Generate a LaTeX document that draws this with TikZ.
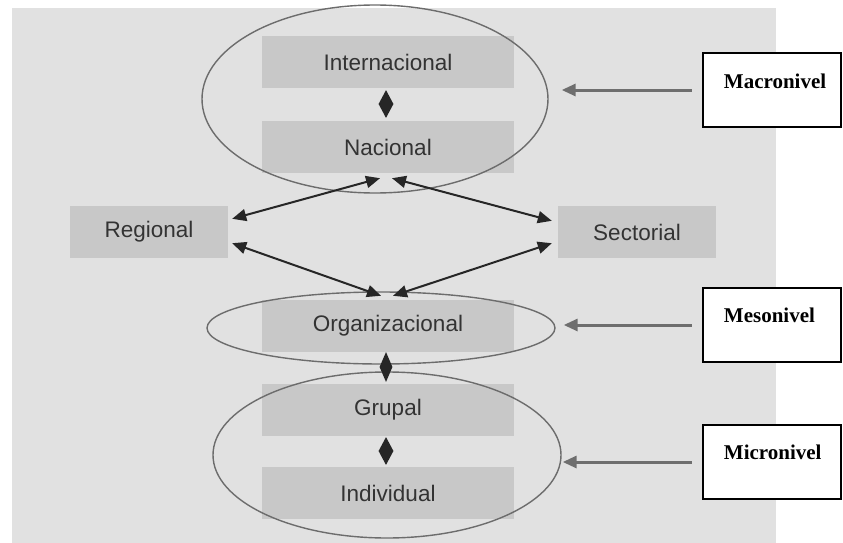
\documentclass[tikz,border=0pt]{standalone}
\usepackage{fontspec}
\setmainfont{Liberation Sans}
\newfontfamily\lblfont{Liberation Serif}
\usetikzlibrary{arrows.meta,shapes.geometric}
\definecolor{panel}{HTML}{E1E1E1}
\definecolor{boxfill}{HTML}{C8C8C8}
\definecolor{boxtext}{HTML}{333333}
\definecolor{ringcol}{HTML}{6C6C6C}
\definecolor{pointer}{HTML}{6E6E6E}
\begin{document}
\begin{tikzpicture}[x=1pt,y=-1pt,
  level/.style={rectangle,fill=boxfill,inner sep=0pt,minimum height=52pt,
    text=boxtext,font=\fontsize{22.5}{25}\selectfont},
  wide/.style={level,minimum width=252pt},
  side/.style={level,minimum width=158pt},
  ring/.style={ellipse,draw=ringcol,line width=1.4pt,inner sep=0pt},
  gem/.style={diamond,fill=black!85,inner sep=0pt,minimum width=15pt},
  link/.style={line width=2pt,draw=black!85,{Triangle[length=14pt,width=12pt]}-{Triangle[length=14pt,width=12pt]}},
  lblbox/.style={rectangle,draw=black,line width=2.5pt,fill=white,minimum width=138pt,minimum height=74pt,inner sep=0pt},
  lbltxt/.style={font=\lblfont\bfseries\fontsize{21}{23}\selectfont,inner sep=0pt,anchor=west},
  pointarrow/.style={line width=3pt,draw=pointer,-{Triangle[length=14pt,width=12pt]}}]
\useasboundingbox (0,0) rectangle (843,543);
% background panel
\fill[panel] (12,8) rectangle (776,543);

% levels
\node[wide] (int) at (388,62) {Internacional};
\node[wide] (nac) at (388,147) {Nacional};
\node[side] (reg) at (149,232) {Regional};
\node[side] (sec) at (637,232) {Sectorial};
\node[wide] (org) at (388,326) {Organizacional};
\node[wide] (gru) at (388,409.5) {Grupal};
\node[wide] (ind) at (388,493) {Individual};

% grouping ellipses
\node[ring,minimum width=346pt,minimum height=188pt] (macE) at (375,99) {};
\node[ring,minimum width=348pt,minimum height=72pt] (mesE) at (381,328) {};
\node[ring,minimum width=348pt,minimum height=166pt] (micE) at (387,455) {};

% diamonds between stacked levels
\node[gem,minimum height=28pt] (d1) at (386,104) {};
\node[gem,minimum width=13pt,minimum height=30pt] (d2) at (386,367) {};
\node[gem,minimum height=28pt] (d3) at (386,451) {};

% links between the national, regional, sectorial and organizational levels
\draw[link] ([xshift=-8pt,yshift=-5pt]nac.south) -- ([xshift=4pt,yshift=-13pt]reg.north east);
\draw[link] ([xshift=4pt,yshift=-5pt]nac.south) -- ([xshift=-6pt,yshift=-15pt]sec.north west);
\draw[link] ([xshift=4pt,yshift=15pt]reg.south east) -- ([xshift=-7pt,yshift=4pt]org.north);
\draw[link] ([xshift=-6pt,yshift=15pt]sec.south west) -- ([xshift=5pt,yshift=4pt]org.north);

% level labels
\node[lblbox] (mac) at (772,90) {};
\node[lbltxt] at ([xshift=22pt,yshift=9pt]mac.west) {Macronivel};
\node[lblbox] (mes) at (772,325) {};
\node[lbltxt] at ([xshift=22pt,yshift=10pt]mes.west) {Mesonivel};
\node[lblbox] (mic) at (772,462) {};
\node[lbltxt] at ([xshift=22pt,yshift=10pt]mic.west) {Micronivel};

\draw[pointarrow] ([xshift=-10pt]mac.west) -- ([xshift=13pt]macE.east |- mac.west);
\draw[pointarrow] ([xshift=-10pt]mes.west) -- ([xshift=8pt]mesE.east |- mes.west);
\draw[pointarrow] ([xshift=-10pt]mic.west) -- ([xshift=1pt]micE.east |- mic.west);
\end{tikzpicture}
\end{document}
